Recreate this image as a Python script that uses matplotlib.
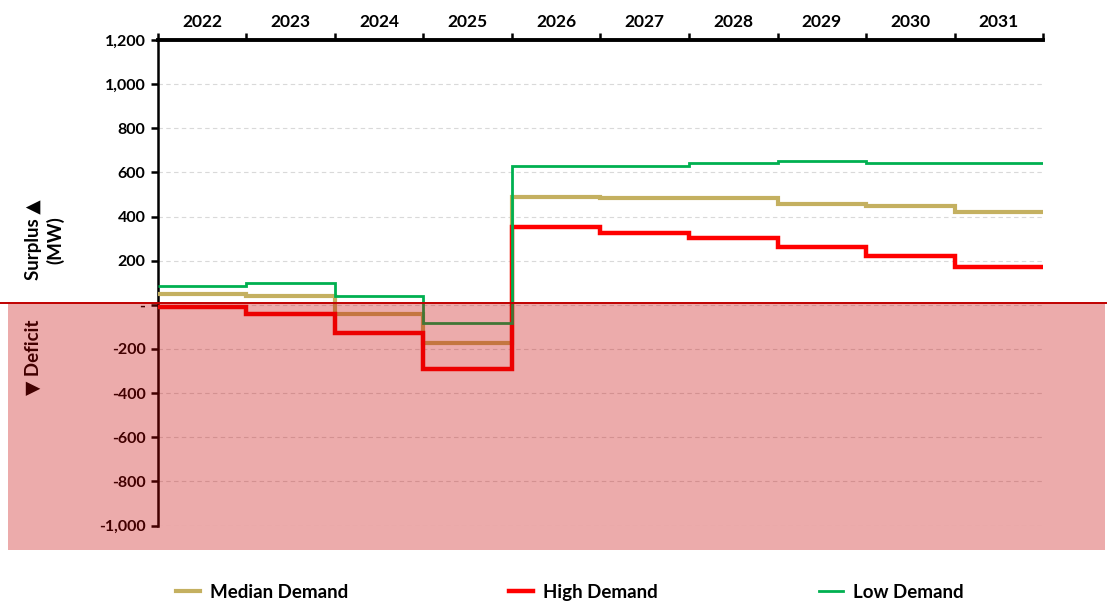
import matplotlib.pyplot as plt
import matplotlib.transforms as mtransforms
from matplotlib.patches import Rectangle
from matplotlib.lines import Line2D
import numpy as np

plt.rcParams['font.family'] = ['Lato', 'DejaVu Sans']

years = ["2022", "2023", "2024", "2025", "2026", "2027", "2028", "2029", "2030", "2031"]
median_demand = [49, 42, -42, -172, 489, 482, 482, 459, 450, 420]
high_demand = [-11, -40, -129, -290, 352, 324, 302, 263, 222, 171]
low_demand = [87, 97, 38, -81, 630, 630, 641, 650, 641, 641]

fig = plt.figure(figsize=(11.07, 6.03), dpi=100)
ax = fig.add_axes([0.1427, 0.1285, 0.7995, 0.8052])

edges = np.arange(len(years) + 1)
ax.stairs(median_demand, edges, baseline=None, color="#C4B060", lw=3.0, label="Median Demand", zorder=3)
ax.stairs(high_demand, edges, baseline=None, color="#FF0000", lw=3.2, label="High Demand", zorder=4)
ax.stairs(low_demand, edges, baseline=None, color="#00B050", lw=2.0, label="Low Demand", zorder=5)

ax.set_xlim(0, len(years))
ax.set_ylim(-1000, 1200)

# y axis
yt = np.arange(-1000, 1201, 200)
ax.set_yticks(yt)
ax.set_yticklabels(["-" if v == 0 else f"{v:,}" for v in yt], fontsize=11.5, fontweight="bold")
ax.tick_params(axis="y", direction="out", length=5, width=1.8, pad=4)
ax.grid(axis="y", color="#d9d9d9", ls=(0, (4, 3)), lw=0.8)

# x axis on top, labels centred between ticks
ax.xaxis.set_ticks_position("top")
ax.set_xticks(edges)
ax.set_xticklabels([])
ax.set_xticks(edges[:-1] + 0.5, minor=True)
ax.set_xticklabels(years, minor=True, fontsize=12.5, fontweight="bold")
ax.tick_params(axis="x", which="major", direction="out", length=5, width=1.8, top=True, bottom=False)
ax.tick_params(axis="x", which="minor", length=0, pad=7, top=True, bottom=False)

for s in ["right", "bottom"]:
    ax.spines[s].set_visible(False)
ax.spines["top"].set_linewidth(2.8)
ax.spines["left"].set_linewidth(1.8)

# labels
fig.text(0.030, 0.602, "Surplus ▲", rotation=90, ha="center", va="center",
         fontsize=13.5, fontweight="bold", zorder=3)
fig.text(0.050, 0.602, "(MW)", rotation=90, ha="center", va="center",
         fontsize=13.5, fontweight="bold", zorder=3)
fig.text(0.030, 0.408, "▼ Deficit", rotation=90, ha="center", va="center",
         fontsize=13.5, fontweight="bold", zorder=3)

# deficit shading over everything below zero
blend = mtransforms.blended_transform_factory(fig.transFigure, ax.transData)
fig.add_artist(Rectangle((0.0072, -1113), 0.991, 1123, transform=blend,
                         facecolor=(0.78, 0, 0), alpha=0.33, edgecolor="none", zorder=6))
fig.add_artist(Line2D([0, 1], [10, 10], transform=blend, color="#C00000", lw=1.4, zorder=7))

fig.legend(loc="center left", bbox_to_anchor=(0.152, 0.018), ncol=3, frameon=False,
           prop={"weight": "bold", "size": 13.5}, handlelength=1.3,
           handletextpad=0.5, columnspacing=8.6, borderaxespad=0)

fig.savefig("out.png", dpi=100)
